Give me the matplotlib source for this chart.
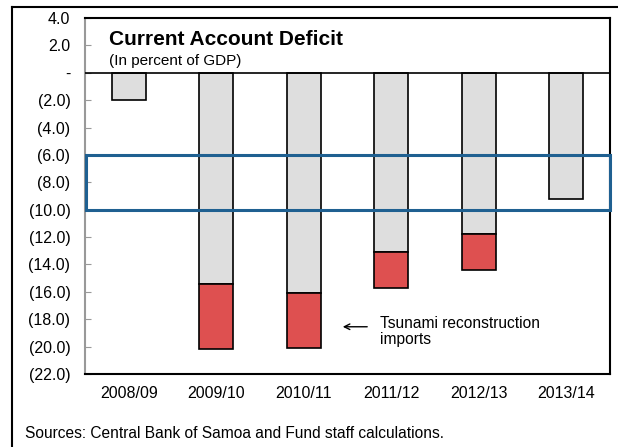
import matplotlib
matplotlib.use("Agg")
import matplotlib.pyplot as plt
from matplotlib.patches import Rectangle
from matplotlib.lines import Line2D

categories = ["2008/09", "2009/10", "2010/11", "2011/12", "2012/13", "2013/14"]
base_deficit = [-2.0, -15.4, -16.1, -13.1, -11.8, -9.2]
tsunami_imports = [0.0, -4.8, -4.0, -2.6, -2.6, 0.0]
ytick_values = [4, 2, 0, -2, -4, -6, -8, -10, -12, -14, -16, -18, -20, -22]
ytick_labels = ["4.0", "2.0", "-", "(2.0)", "(4.0)", "(6.0)", "(8.0)", "(10.0)",
                "(12.0)", "(14.0)", "(16.0)", "(18.0)", "(20.0)", "(22.0)"]
band_top, band_bottom = -6.0, -10.0

plt.rcParams['font.family'] = ['Liberation Sans', 'DejaVu Sans']

fig = plt.figure(figsize=(6.18, 4.47), dpi=100)
ax = fig.add_axes([85/618, 1-374/447, (610-85)/618, (374-18)/447])

x = list(range(len(categories)))
ax.bar(x, base_deficit, width=0.39, color="#dedede", edgecolor="black", linewidth=1.2, zorder=2)
red_x = [xi for xi, v in zip(x, tsunami_imports) if v != 0]
red_v = [v for v in tsunami_imports if v != 0]
red_b = [b for b, v in zip(base_deficit, tsunami_imports) if v != 0]
ax.bar(red_x, red_v, width=0.39, bottom=red_b, color="#de5050",
       edgecolor="black", linewidth=1.2, zorder=2)

ax.axhline(0, color="black", linewidth=1.2, zorder=3)
ax.set_xlim(-0.5, len(categories) - 0.5)
ax.set_ylim(-22, 4)
ax.set_yticks(ytick_values)
ax.set_yticklabels(ytick_labels, fontsize=11.5)
ax.set_xticks(x)
ax.set_xticklabels(categories, fontsize=11.5)
ax.tick_params(axis='y', direction='in', length=4, color='#999999', pad=10.5)
ax.tick_params(axis='x', length=0, pad=8.5)
ax.spines['left'].set_color('#999999')
ax.spines['left'].set_linewidth(1.5)
for s in ['top', 'right', 'bottom']:
    ax.spines[s].set_color('black')
    ax.spines[s].set_linewidth(1.5)

band = Rectangle((-0.489, band_bottom), len(categories) - 0.5 + 0.489, band_top - band_bottom,
                 fill=False, edgecolor="#1f6091", linewidth=2.2, zorder=4, clip_on=False)
ax.add_patch(band)

ax.text(0.0457, 0.941, "Current Account Deficit", transform=ax.transAxes,
        fontsize=15, fontweight='bold', va='center', ha='left')
ax.text(0.0457, 0.879, "(In percent of GDP)", transform=ax.transAxes,
        fontsize=11, va='center', ha='left')

ax.annotate("", xy=(2.414, -18.55), xytext=(2.757, -18.55),
            arrowprops=dict(arrowstyle='->', color='black', lw=1))
ax.text(2.871, -18.88, "Tsunami reconstruction\nimports", fontsize=11.2,
        va='center', ha='left', linespacing=1.05)

fig.text(25/618, 1-433/447, "Sources: Central Bank of Samoa and Fund staff calculations.",
         fontsize=11.2, va='center', ha='left')

fig.add_artist(Line2D([12/618, 1], [1-7/447, 1-7/447], color='black', lw=1.5))
fig.add_artist(Line2D([12/618, 12/618], [0, 1-7/447], color='black', lw=1.5))

fig.savefig("out.png", dpi=100)
